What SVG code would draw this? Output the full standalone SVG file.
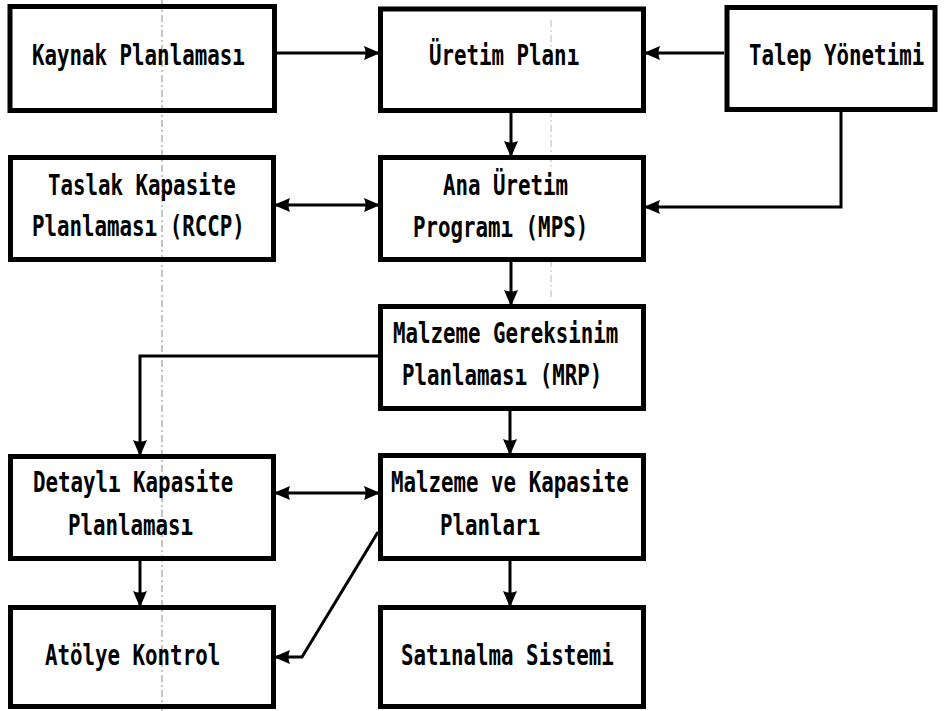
<svg xmlns="http://www.w3.org/2000/svg" width="946" height="711" viewBox="0 0 946 711">
  <style>
    .box { fill: none; stroke: #000; stroke-width: 5; }
    .t { font-family: "DejaVu Sans Mono", "Liberation Mono", monospace; font-size: 20.8px; font-weight: bold; fill: #000; }
    .c { fill: none; stroke: #000; stroke-width: 3; }
    .guide { fill: none; stroke: #888; stroke-width: 1; stroke-dasharray: 7 3 2 3; }
  </style>
  <defs>
    <marker id="head" markerUnits="userSpaceOnUse" markerWidth="16" markerHeight="18" refX="14" refY="8" orient="auto-start-reverse">
      <path d="M0,1 Q3,8 0,15 L14,9 L14,7 Z" fill="#000"/>
    </marker>
  </defs>
  <rect width="946" height="711" fill="#fff"/>

  <!-- fold lines of the printed sheet -->
  <g id="guides">
    <line class="guide" x1="162" y1="0" x2="162" y2="711"/>
    <line class="guide" x1="551" y1="20" x2="551" y2="50" stroke-opacity="0.6"/>
    <line class="guide" x1="551" y1="110" x2="551" y2="170" stroke-opacity="0.6"/>
    <line class="guide" x1="551" y1="260" x2="551" y2="300" stroke-opacity="0.6"/>
  </g>

  <g id="connectors">
    <line class="c" x1="277" y1="53" x2="378" y2="53" marker-end="url(#head)"/>
    <line class="c" x1="724" y1="53" x2="646" y2="53" marker-end="url(#head)"/>
    <line class="c" x1="511" y1="113" x2="511" y2="155" marker-end="url(#head)"/>
    <polyline class="c" points="841,112 841,207 646,207" marker-end="url(#head)"/>
    <line class="c" x1="276" y1="205" x2="378" y2="205" marker-start="url(#head)" marker-end="url(#head)"/>
    <line class="c" x1="511" y1="262" x2="511" y2="304" marker-end="url(#head)"/>
    <polyline class="c" points="378,356 140,356 140,454" marker-end="url(#head)"/>
    <line class="c" x1="510" y1="411" x2="510" y2="453" marker-end="url(#head)"/>
    <line class="c" x1="276" y1="493" x2="378" y2="493" marker-start="url(#head)" marker-end="url(#head)"/>
    <line class="c" x1="140" y1="561" x2="140" y2="605" marker-end="url(#head)"/>
    <line class="c" x1="510" y1="561" x2="510" y2="605" marker-end="url(#head)"/>
    <polyline class="c" points="378,532 302,657 276,657" marker-end="url(#head)"/>
  </g>

  <g id="kaynak-planlamasi">
    <rect class="box" x="10" y="6.5" width="264.5" height="104"/>
    <text class="t" transform="translate(32,65) scale(1,1.35)">Kaynak Planlaması</text>
  </g>
  <g id="uretim-plani">
    <rect class="box" x="380.5" y="9" width="263" height="101.5"/>
    <text class="t" transform="translate(429,65) scale(1,1.35)">Üretim Planı</text>
  </g>
  <g id="talep-yonetimi">
    <rect class="box" x="727" y="7.5" width="208" height="102"/>
    <text class="t" transform="translate(749,65) scale(1,1.35)">Talep Yönetimi</text>
  </g>
  <g id="taslak-kapasite">
    <rect class="box" x="10.5" y="157.5" width="263" height="102"/>
    <text class="t" transform="translate(48,195) scale(1,1.35)">Taslak Kapasite</text>
    <text class="t" transform="translate(32,236) scale(1,1.35)">Planlaması (RCCP)</text>
  </g>
  <g id="ana-uretim-programi">
    <rect class="box" x="380.5" y="157.5" width="263" height="102"/>
    <text class="t" transform="translate(443,195) scale(1,1.35)">Ana Üretim</text>
    <text class="t" transform="translate(413,237) scale(1,1.35)">Programı (MPS)</text>
  </g>
  <g id="mrp">
    <rect class="box" x="380.5" y="306.5" width="263" height="102"/>
    <text class="t" transform="translate(393,343) scale(1,1.35)">Malzeme Gereksinim</text>
    <text class="t" transform="translate(402,385) scale(1,1.35)">Planlaması (MRP)</text>
  </g>
  <g id="detayli-kapasite">
    <rect class="box" x="10.5" y="456.5" width="263" height="102"/>
    <text class="t" transform="translate(33,492) scale(1,1.35)">Detaylı Kapasite</text>
    <text class="t" transform="translate(68,535) scale(1,1.35)">Planlaması</text>
  </g>
  <g id="malzeme-kapasite-planlari">
    <rect class="box" x="380.5" y="455.5" width="263" height="103"/>
    <text class="t" transform="translate(391,492) scale(1,1.35)">Malzeme ve Kapasite</text>
    <text class="t" transform="translate(440,535) scale(1,1.35)">Planları</text>
  </g>
  <g id="atolye-kontrol">
    <rect class="box" x="10.5" y="607.5" width="263" height="99"/>
    <text class="t" transform="translate(45,665) scale(1,1.35)">Atölye Kontrol</text>
  </g>
  <g id="satinalma-sistemi">
    <rect class="box" x="380.5" y="607.5" width="263" height="99"/>
    <text class="t" transform="translate(401,665) scale(1,1.35)">Satınalma Sistemi</text>
  </g>
</svg>
